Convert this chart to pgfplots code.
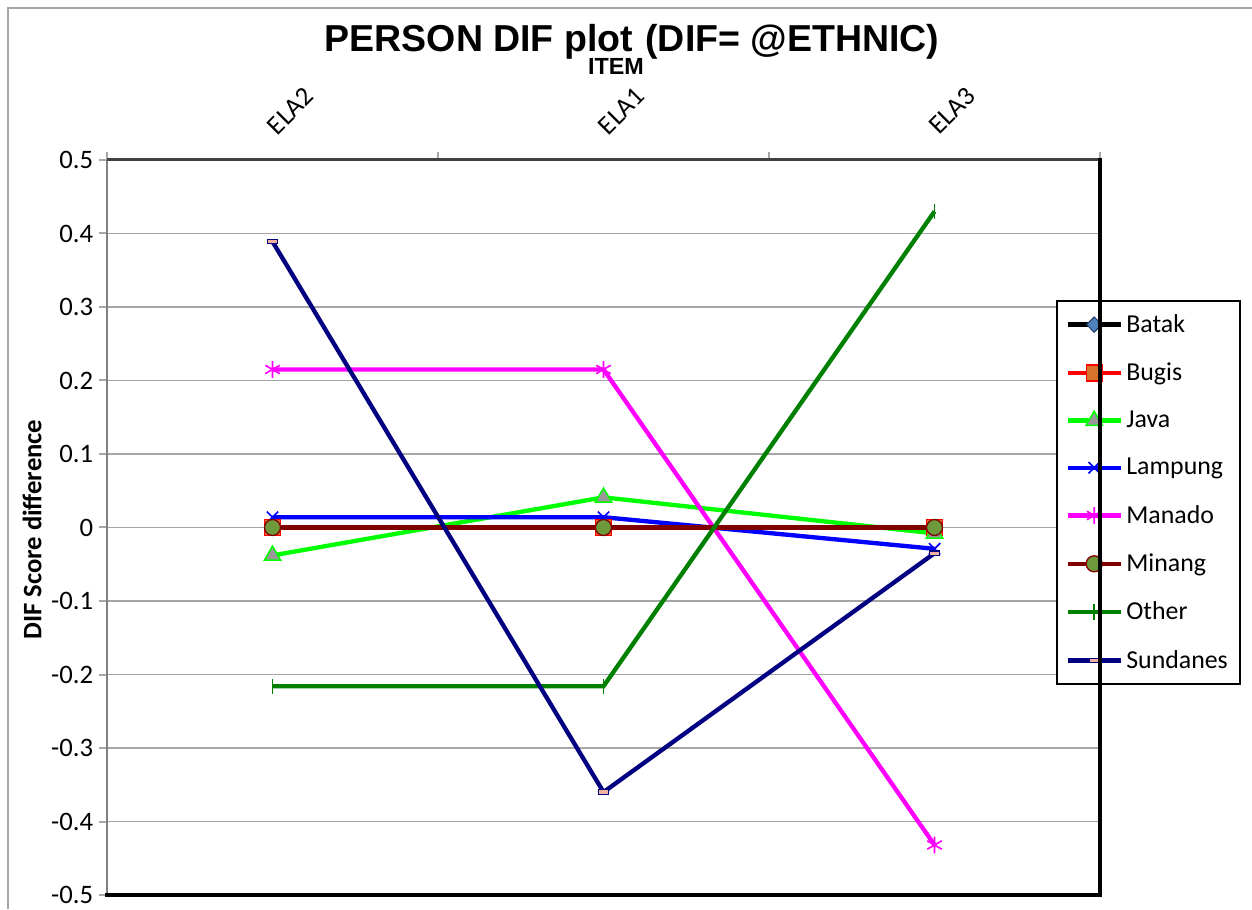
\documentclass[border=0pt]{standalone}
\usepackage{fontspec}
\setmainfont{Carlito}
\newfontfamily\titlefont{Liberation Sans}
\usepackage{pgfplots}
\pgfplotsset{compat=1.18}
\definecolor{batakfill}{HTML}{4F81BD}
\definecolor{batakedge}{HTML}{1F3864}
\definecolor{bugisfill}{HTML}{D9722C}
\definecolor{bugisline}{HTML}{FF0000}
\definecolor{javafill}{HTML}{999999}
\definecolor{lime}{HTML}{00FF00}
\definecolor{lampline}{HTML}{0000FF}
\definecolor{manline}{HTML}{FF00FF}
\definecolor{minangline}{HTML}{800000}
\definecolor{minangfill}{HTML}{6E9A3C}
\definecolor{otherline}{HTML}{008000}
\definecolor{sundline}{HTML}{000080}
\definecolor{sundfill}{HTML}{F4B0A0}
\definecolor{gridgray}{HTML}{A6A6A6}
\begin{document}
\begin{tikzpicture}
\useasboundingbox (-64.2pt,-8.4pt) rectangle (687pt,537pt);
\draw[gridgray, line width=1.2pt] (-59.4pt,-8.4pt) -- (-59.4pt,532.2pt) -- (687pt,532.2pt);
\begin{axis}[
  at={(0pt,0pt)}, anchor=south west, scale only axis,
  width=595.8pt, height=441pt,
  xmin=-0.5, xmax=2.5, ymin=-0.5, ymax=0.5,
  axis line style={draw=none},
  xtick={0,1,2}, xticklabels={ELA2,ELA1,ELA3},
  xtick pos=upper, xticklabel pos=upper,
  minor xtick={-0.5,0.5,1.5,2.5},
  major x tick style={draw=none},
  minor x tick style={draw=gridgray, line width=1.2pt},
  ytick={-0.5,-0.4,...,0.5},
  ytick pos=left,
  y tick style={draw=gridgray, line width=1.2pt},
  tick align=outside,
  major tick length=4.8pt, minor tick length=4.8pt,
  ymajorgrids, major grid style={draw=gridgray, line width=1.1pt},
  yticklabel style={font=\fontsize{16}{19}\selectfont, /pgf/number format/.cd, fixed, precision=1, assume math mode=true},
  xticklabel style={font=\fontsize{16}{19}\selectfont, rotate=45, anchor=south west, xshift=5.5pt, yshift=1pt},
  ylabel={DIF Score difference},
  ylabel style={font=\bfseries\fontsize{16}{19}\selectfont, at={(axis description cs:-0.0755,0.497)}, anchor=center},
  legend style={at={(axis description cs:0.9557,0.8095)}, anchor=north west, draw=black, line width=1.2pt,
    font=\fontsize{15.5}{18}\selectfont, row sep=12.8pt, inner xsep=5pt, inner ysep=6pt},
  legend cell align=left,
  legend image code/.code={\draw[mark repeat=2,mark phase=2,#1] plot coordinates {(0pt,0pt) (16pt,0pt) (32pt,0pt)};},
]
\addplot[black, line width=2.6pt, mark=diamond*, mark size=4.6pt,
  mark options={solid, fill=batakfill, draw=batakedge, line width=0.6pt, xscale=1.33}]
  coordinates {(0,0) (1,0) (2,0)};
\addlegendentry{Batak}
\addplot[bugisline, line width=2.6pt, mark=square*, mark size=4.8pt,
  mark options={solid, fill=bugisfill, draw=bugisline, line width=0.8pt}]
  coordinates {(0,0) (1,0) (2,0)};
\addlegendentry{Bugis}
\addplot[lime, line width=2.6pt, mark=triangle*, mark size=5.6pt,
  mark options={solid, fill=javafill, draw=lime, line width=0.9pt}]
  coordinates {(0,-0.038) (1,0.041) (2,-0.008)};
\addlegendentry{Java}
\addplot[lampline, line width=2.6pt, mark=x, mark size=4.8pt,
  mark options={solid, draw=lampline, line width=1pt}]
  coordinates {(0,0.014) (1,0.014) (2,-0.029)};
\addlegendentry{Lampung}
\addplot[manline, line width=2.6pt, mark=asterisk, mark size=5pt,
  mark options={solid, draw=manline, line width=1pt}]
  coordinates {(0,0.215) (1,0.215) (2,-0.432)};
\addlegendentry{Manado}
\addplot[minangline, line width=2.6pt, mark=*, mark size=4.8pt,
  mark options={solid, fill=minangfill, draw=minangline, line width=0.8pt}]
  coordinates {(0,0) (1,0) (2,0)};
\addlegendentry{Minang}
\addplot[otherline, line width=2.6pt, mark=|, mark size=4.6pt,
  mark options={solid, draw=otherline, line width=1pt}]
  coordinates {(0,-0.216) (1,-0.216) (2,0.430)};
\addlegendentry{Other}
\addplot[sundline, line width=2.6pt, mark=square*, mark size=1.8pt,
  mark options={solid, fill=sundfill, draw=sundline, line width=0.7pt, xscale=1.6, yscale=0.75}]
  coordinates {(0,0.389) (1,-0.360) (2,-0.035)};
\addlegendentry{Sundanes}
\end{axis}
\draw[gray, line width=1.2pt] (0pt,0pt) -- (0pt,441pt);
\draw[black!75, line width=1.8pt] (0pt,441pt) -- (595.8pt,441pt);
\draw[black, line width=2pt, line cap=rect] (0pt,0pt) -- (595.8pt,0pt) -- (595.8pt,441pt);
\node[anchor=base, font=\titlefont\bfseries\fontsize{22.5}{26}\selectfont] at (315pt,505.8pt)
  {PERSON DIF plot\hspace{-27pt}\raisebox{-13.5pt}{\fontsize{14}{16}\selectfont ITEM}\hspace{1pt}(DIF= @ETHNIC)};
\end{tikzpicture}
\end{document}
